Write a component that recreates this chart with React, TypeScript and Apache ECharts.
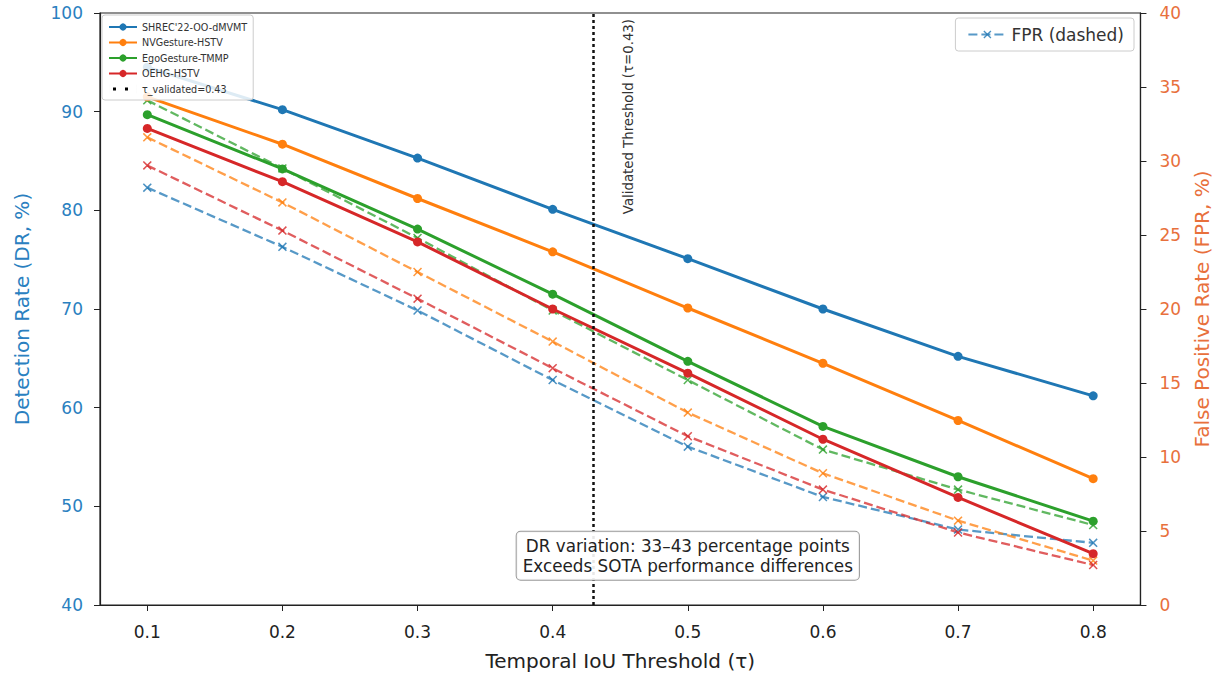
import React, { useEffect, useRef } from "react";
import * as echarts from "echarts";

const thresholds = [0.1, 0.2, 0.3, 0.4, 0.5, 0.6, 0.7, 0.8];
const tickValues = [0.1, 0.2, 0.3, 0.4, 0.5, 0.6, 0.7, 0.8];

const methods = ["SHREC'22-OO-dMVMT", "NVGesture-HSTV", "EgoGesture-TMMP", "OEHG-HSTV"];
const colors = ["#1f77b4", "#ff7f0e", "#2ca02c", "#d62728"];

const drShrec = [94.5, 90.2, 85.3, 80.1, 75.1, 70.0, 65.2, 61.2];
const drNvg = [91.5, 86.7, 81.2, 75.8, 70.1, 64.5, 58.7, 52.8];
const drEgo = [89.7, 84.2, 78.1, 71.5, 64.7, 58.1, 53.0, 48.5];
const drOehg = [88.3, 82.9, 76.8, 70.0, 63.5, 56.8, 50.9, 45.2];

const fprShrec = [28.2, 24.2, 19.9, 15.2, 10.7, 7.3, 5.1, 4.2];
const fprNvg = [31.6, 27.2, 22.5, 17.8, 13.0, 8.9, 5.7, 3.0];
const fprEgo = [34.1, 29.5, 24.8, 19.9, 15.2, 10.5, 7.8, 5.4];
const fprOehg = [29.7, 25.3, 20.7, 16.0, 11.4, 7.8, 4.9, 2.7];

const tauValidated = 0.43;
const tauLabel = "τ_validated=0.43";
const vLineText = "Validated Threshold (τ=0.43)";
const noteLines = ["DR variation: 33–43 percentage points", "Exceeds SOTA performance differences"];

const drSets = [drShrec, drNvg, drEgo, drOehg];
const fprSets = [fprShrec, fprNvg, fprEgo, fprOehg];

const FONT = "'DejaVu Sans', 'Liberation Sans', Arial, sans-serif";
const X_SYMBOL = "path://M0,1.2 L1.2,0 L5,3.8 L8.8,0 L10,1.2 L6.2,5 L10,8.8 L8.8,10 L5,6.2 L1.2,10 L0,8.8 L3.8,5 Z";
const DOTS_ICON = "path://M0,0h0.01v9h-0.01zM28,0h0.01v9h-0.01zM4,3h3v3h-3zM16,3h3v3h-3z";
const DR_COLOR = "#2a80c0";
const FPR_COLOR = "#e8703c";

export default function App() {
  const ref = useRef<HTMLDivElement>(null);

  useEffect(() => {
    if (!ref.current) return;
    const chart = echarts.init(ref.current, null, { renderer: "svg" });

    const solidSeries = methods.map((m, i) => ({
      name: m,
      type: "line",
      xAxisIndex: 0,
      yAxisIndex: 0,
      data: thresholds.map((t, j) => [t, drSets[i][j]]),
      symbol: "circle",
      symbolSize: 9,
      z: 3,
      lineStyle: { color: colors[i], width: 3 },
      itemStyle: { color: colors[i] },
    }));

    const dashedSeries = methods.map((m, i) => ({
      name: i === 0 ? "FPR (dashed)" : "FPR " + m,
      type: "line",
      xAxisIndex: 0,
      yAxisIndex: 1,
      data: thresholds.map((t, j) => [t, fprSets[i][j]]),
      symbol: X_SYMBOL,
      symbolSize: 9,
      z: 2,
      lineStyle: { color: colors[i], width: 2.3, type: [9, 4], opacity: 0.75 },
      itemStyle: { color: colors[i], opacity: 0.8 },
    }));

    const tauSeries = {
      name: tauLabel,
      type: "line",
      xAxisIndex: 0,
      yAxisIndex: 0,
      data: [],
      symbol: "none",
      lineStyle: { color: "#000", type: [3, 3], width: 2.5 },
      itemStyle: { color: "#000" },
      markLine: {
        silent: true,
        symbol: "none",
        label: { show: false },
        lineStyle: { color: "#111", type: [3, 3], width: 2.5 },
        data: [{ xAxis: tauValidated }],
      },
    };

    const option: any = {
      animation: false,
      backgroundColor: "#fff",
      textStyle: { fontFamily: FONT },
      grid: {
        left: 100,
        right: 78,
        top: 13,
        bottom: 75,
        show: true,
        borderColor: "#222",
        borderWidth: 1.2,
        backgroundColor: "transparent",
      },
      legend: [
        {
          orient: "vertical",
          left: 102,
          top: 15,
          itemGap: 5.5,
          itemWidth: 28,
          itemHeight: 9,
          padding: [7, 6, 6, 6],
          backgroundColor: "rgba(255,255,255,0.85)",
          borderColor: "#ccc",
          borderWidth: 1,
          borderRadius: 3,
          textStyle: { fontSize: 9.6, color: "#333", fontFamily: FONT },
          data: [...methods, { name: tauLabel, icon: DOTS_ICON }],
        },
        {
          orient: "vertical",
          right: 86,
          top: 18,
          itemWidth: 38,
          itemHeight: 10,
          padding: [8, 10, 8, 12],
          backgroundColor: "rgba(255,255,255,0.85)",
          borderColor: "#ccc",
          borderWidth: 1,
          borderRadius: 3,
          textStyle: { fontSize: 17, color: "#333", fontFamily: FONT },
          data: ["FPR (dashed)"],
        },
      ],
      xAxis: {
        type: "value",
        min: 0.065,
        max: 0.835,
        name: "Temporal IoU Threshold (τ)",
        nameLocation: "middle",
        nameGap: 46,
        nameTextStyle: { fontSize: 20, color: "#222", fontFamily: FONT },
        axisLine: { show: true, lineStyle: { color: "#222", width: 1.2 } },
        axisTick: { show: true, inside: false, length: 6, customValues: tickValues, lineStyle: { color: "#222" } },
        axisLabel: {
          customValues: tickValues,
          fontSize: 17,
          color: "#222",
          margin: 18,
          formatter: (v: number) => v.toFixed(1),
        },
        splitLine: { show: false },
      },
      yAxis: [
        {
          type: "value",
          min: 40,
          max: 100,
          interval: 10,
          position: "left",
          name: "Detection Rate (DR, %)",
          nameLocation: "middle",
          nameGap: 68,
          nameTextStyle: { fontSize: 20, color: DR_COLOR, fontFamily: FONT },
          axisLine: { show: true, lineStyle: { color: "#222", width: 1.2 } },
          axisTick: { show: true, inside: false, length: 6, lineStyle: { color: "#222" } },
          axisLabel: { fontSize: 17, color: DR_COLOR, margin: 17 },
          splitLine: { show: false },
        },
        {
          type: "value",
          min: 0,
          max: 40,
          interval: 5,
          position: "right",
          name: "False Positive Rate (FPR, %)",
          nameLocation: "middle",
          nameGap: 46,
          nameRotate: 90,
          nameTextStyle: { fontSize: 20, color: FPR_COLOR, fontFamily: FONT },
          axisLine: { show: true, lineStyle: { color: "#222", width: 1.2 } },
          axisTick: { show: true, inside: false, length: 6, lineStyle: { color: "#222" } },
          axisLabel: { fontSize: 17, color: FPR_COLOR, margin: 19 },
          splitLine: { show: false },
        },
      ],
      series: [...dashedSeries, ...solidSeries, tauSeries],
    };

    chart.setOption(option);

    const vx = chart.convertToPixel({ xAxisIndex: 0 }, tauValidated) as number;
    const noteX = chart.convertToPixel({ xAxisIndex: 0 }, 0.5) as number;
    const noteY = chart.convertToPixel({ yAxisIndex: 0 }, 45) as number;
    const topY = chart.convertToPixel({ yAxisIndex: 0 }, 100) as number;

    chart.setOption({
      graphic: [
        {
          type: "text",
          x: vx + 35,
          y: topY + 6,
          rotation: Math.PI / 2,
          z: 10,
          style: {
            text: vLineText,
            fontSize: 13.3,
            fontFamily: FONT,
            fill: "#333",
            align: "right",
            verticalAlign: "middle",
          },
        },
        {
          type: "text",
          x: noteX,
          y: noteY,
          z: 10,
          style: {
            text: noteLines.join("\n"),
            fontSize: 16.8,
            lineHeight: 20,
            fontFamily: FONT,
            fill: "#222",
            align: "center",
            verticalAlign: "middle",
            backgroundColor: "rgba(255,255,255,0.9)",
            borderColor: "#999",
            borderWidth: 1,
            borderRadius: 4,
            padding: [4, 6],
          },
        },
      ],
    });

    return () => chart.dispose();
  }, []);

  return (
    <div
      ref={ref}
      style={{ position: "fixed", left: 0, top: 0, width: 1220, height: 680 }}
    />
  );
}
